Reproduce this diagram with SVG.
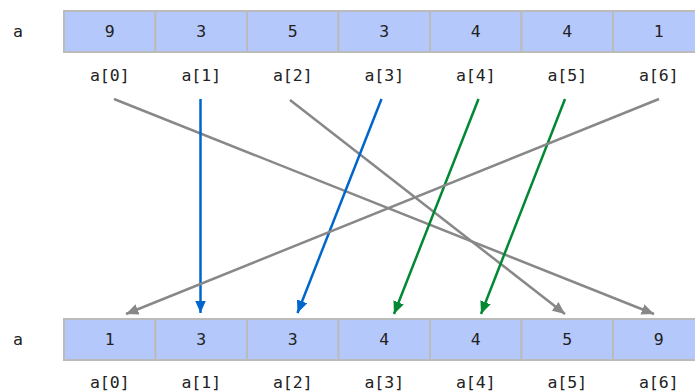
<svg xmlns="http://www.w3.org/2000/svg" width="695" height="392" viewBox="0 0 695 392">
<style>
text{font-family:"DejaVu Sans Mono","Liberation Mono",monospace;font-size:16.5px;fill:#222;text-anchor:middle}
.cell{fill:#b5c8fc;stroke:#bbbbbb;stroke-width:2}
.ln{fill:none;stroke-width:2.5}
.g{stroke:#888888}.b{stroke:#0066cc}.n{stroke:#008833}
</style>
<defs>
<marker id="ag" viewBox="0 0 10 10" refX="10" refY="5" markerWidth="5" markerHeight="4.4" orient="auto" markerUnits="strokeWidth" preserveAspectRatio="none"><path d="M0,0 L10,5 L0,10 z" fill="#888888"/></marker>
<marker id="ab" viewBox="0 0 10 10" refX="10" refY="5" markerWidth="5" markerHeight="4.4" orient="auto" markerUnits="strokeWidth" preserveAspectRatio="none"><path d="M0,0 L10,5 L0,10 z" fill="#0066cc"/></marker>
<marker id="an" viewBox="0 0 10 10" refX="10" refY="5" markerWidth="5" markerHeight="4.4" orient="auto" markerUnits="strokeWidth" preserveAspectRatio="none"><path d="M0,0 L10,5 L0,10 z" fill="#008833"/></marker>
</defs>
<g id="top">
<text x="18" y="37">a</text>
<rect class="cell" x="64" y="11" width="91.5" height="41"/>
<rect class="cell" x="155.5" y="11" width="91.5" height="41"/>
<rect class="cell" x="247" y="11" width="91.5" height="41"/>
<rect class="cell" x="338.5" y="11" width="91.5" height="41"/>
<rect class="cell" x="430" y="11" width="91.5" height="41"/>
<rect class="cell" x="521.5" y="11" width="91.5" height="41"/>
<rect class="cell" x="613" y="11" width="91.5" height="41"/>
<text x="109.75" y="37">9</text><text x="201.25" y="37">3</text><text x="292.75" y="37">5</text><text x="384.25" y="37">3</text><text x="475.75" y="37">4</text><text x="567.25" y="37">4</text><text x="658.75" y="37">1</text>
<text x="109.75" y="81">a[0]</text><text x="201.25" y="81">a[1]</text><text x="292.75" y="81">a[2]</text><text x="384.25" y="81">a[3]</text><text x="475.75" y="81">a[4]</text><text x="567.25" y="81">a[5]</text><text x="658.75" y="81">a[6]</text>
</g>
<g id="bottom">
<text x="18" y="345">a</text>
<rect class="cell" x="64" y="319" width="91.5" height="41"/>
<rect class="cell" x="155.5" y="319" width="91.5" height="41"/>
<rect class="cell" x="247" y="319" width="91.5" height="41"/>
<rect class="cell" x="338.5" y="319" width="91.5" height="41"/>
<rect class="cell" x="430" y="319" width="91.5" height="41"/>
<rect class="cell" x="521.5" y="319" width="91.5" height="41"/>
<rect class="cell" x="613" y="319" width="91.5" height="41"/>
<text x="109.75" y="345">1</text><text x="201.25" y="345">3</text><text x="292.75" y="345">3</text><text x="384.25" y="345">4</text><text x="475.75" y="345">4</text><text x="567.25" y="345">5</text><text x="658.75" y="345">9</text>
<text x="109.75" y="388">a[0]</text><text x="201.25" y="388">a[1]</text><text x="292.75" y="388">a[2]</text><text x="384.25" y="388">a[3]</text><text x="475.75" y="388">a[4]</text><text x="567.25" y="388">a[5]</text><text x="658.75" y="388">a[6]</text>
</g>
<g id="connectors">
<line class="ln g" x1="114" y1="99" x2="654" y2="314" marker-end="url(#ag)"/>
<line class="ln b" x1="200.5" y1="99" x2="200.5" y2="313" marker-end="url(#ab)"/>
<line class="ln g" x1="290" y1="100" x2="565" y2="314" marker-end="url(#ag)"/>
<line class="ln b" x1="381.5" y1="99" x2="297.5" y2="313" marker-end="url(#ab)"/>
<line class="ln n" x1="478.5" y1="99" x2="394" y2="314" marker-end="url(#an)"/>
<line class="ln n" x1="565" y1="99" x2="481" y2="314" marker-end="url(#an)"/>
<line class="ln g" x1="659" y1="99" x2="126" y2="314" marker-end="url(#ag)"/>
</g>
</svg>
